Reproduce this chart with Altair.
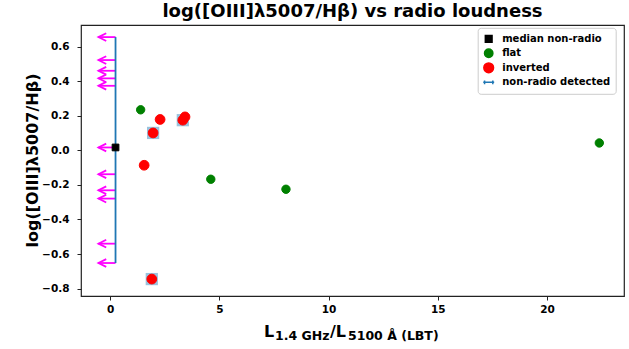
import altair as alt
import pandas as pd

# ---- data ----
categories = ["median non-radio", "flat", "inverted", "non-radio detected"]

med_x = [0.25]
med_y = [0.017]

flat_x = [1.40, 4.61, 8.05, 22.39]
flat_y = [0.235, -0.167, -0.225, 0.043]

inv_x = [2.29, 1.97, 3.33, 3.43, 1.56, 1.91]
inv_y = [0.179, 0.101, 0.175, 0.194, -0.086, -0.745]

# light-blue square markers hidden behind some red points
sq_x = [1.97, 3.33, 1.91]
sq_y = [0.101, 0.175, -0.745]

# non-radio detected: upper limits (arrows) at x = nr_x
nr_x = 0.25
nr_xerr = 0.78
nr_y = [0.656, 0.523, 0.461, 0.417, 0.374, 0.017, -0.138, -0.231, -0.279, -0.540, -0.652]

x_ticks = [0, 5, 10, 15, 20]
y_ticks = [-0.8, -0.6, -0.4, -0.2, 0.0, 0.2, 0.4, 0.6]

title_text = "log([OIII]\u03bb5007/H\u03b2) vs radio loudness"
y_title = "log([OIII]\u03bb5007/H\u03b2)"

# ---- tables ----
pts = pd.DataFrame({
    "x": med_x + flat_x + inv_x,
    "y": med_y + flat_y + inv_y,
    "cat": [categories[0]] * len(med_x) + [categories[1]] * len(flat_x) + [categories[2]] * len(inv_x),
})
sq = pd.DataFrame({"x": sq_x, "y": sq_y})
arrows = pd.DataFrame({"y": nr_y, "x0": [nr_x - nr_xerr] * len(nr_y), "x1": [nr_x] * len(nr_y)})
vline = pd.DataFrame({"x": [nr_x], "ylo": [min(nr_y)], "yhi": [max(nr_y)]})

FONT = "DejaVu Sans"
xscale = alt.Scale(domain=[-1.33, 23.52], nice=False, zero=False)
yscale = alt.Scale(domain=[-0.843, 0.726], nice=False, zero=False)
xaxis = alt.Axis(values=x_ticks, title=None, grid=False, domain=False, tickSize=4,
                 labelPadding=4, format="d")
yaxis = alt.Axis(values=y_ticks, title=y_title, grid=False, domain=False, tickSize=4,
                 labelPadding=8,
                 labelExpr="replace(format(datum.value, '.1f'), '-', '\u2212')",
                 titleFontSize=16, titleFont=FONT, titleFontWeight="bold",
                 titleX=-49, titleY=135, titleAngle=270, titleAlign="center",
                 titleBaseline="middle")


def X(field):
    return alt.X(field, type="quantitative", scale=xscale, axis=xaxis)


def Y(field):
    return alt.Y(field, type="quantitative", scale=yscale, axis=yaxis)


arrow_lines = alt.Chart(arrows).mark_rule(color="#ff00ff", strokeWidth=1.8).encode(
    x=X("x0"), x2="x1", y=Y("y"))
arrow_heads = alt.Chart(arrows).mark_point(
    shape="M2,-1L0,0L2,1", size=60, filled=False, color="#ff00ff", strokeWidth=1.8, opacity=1
).encode(x=X("x0"), y=Y("y"))
vrule = alt.Chart(vline).mark_rule(color="#1f77b4", strokeWidth=1.8).encode(
    x=X("x"), y=Y("ylo"), y2="yhi")
squares = alt.Chart(sq).mark_square(size=150, color="#1f77b4", opacity=0.45).encode(
    x=X("x"), y=Y("y"))

fill_range = ["#000000", "#008000", "#ff0000", "#1f77b4"]
shape_range = ["square", "circle", "circle",
               "M-1,0H1M-0.75,-0.35V0.35M0.75,-0.35V0.35"]
size_range = [45, 120, 120, 400]
leg = alt.Legend(title=None)

points = alt.Chart(pts).mark_point(filled=True, strokeWidth=1, opacity=1).encode(
    x=X("x"), y=Y("y"),
    fill=alt.Fill("cat:N", scale=alt.Scale(domain=categories, range=fill_range), legend=leg),
    stroke=alt.Stroke("cat:N", scale=alt.Scale(domain=categories, range=fill_range), legend=leg),
    shape=alt.Shape("cat:N", scale=alt.Scale(domain=categories, range=shape_range), legend=leg),
    size=alt.Size("cat:N", scale=alt.Scale(domain=categories, range=size_range), legend=leg),
)

one = alt.Data(values=[{"a": 0}])


def txt(s, px, py, fs):
    return alt.Chart(one).mark_text(
        text=s, font=FONT, fontWeight="bold", fontSize=fs, align="left",
        baseline="alphabetic", color="black"
    ).encode(x=alt.value(px), y=alt.value(py))


xlab = [
    txt("L", 183, 312, 16),
    txt("1.4 GHz", 194, 315, 12.5),
    txt("/L", 249, 312, 16),
    txt("5100 \u00c5 (LBT)", 267, 315, 12.5),
]

chart = alt.layer(arrow_lines, arrow_heads, vrule, squares, points, *xlab).properties(
    width=543, height=271,
    padding={"left": 81, "top": 25, "right": 5, "bottom": 53},
    autosize=alt.AutoSizeParams(type="none"),
    title=alt.TitleParams(text=title_text, font=FONT, fontSize=18, fontWeight="bold",
                          anchor="middle", color="black", offset=7, baseline="alphabetic",
                          dy=17),
).configure_view(stroke="#222222", strokeWidth=1.2).configure_axis(
    labelFont=FONT, labelFontWeight="bold", labelFontSize=10.5, labelColor="black",
    tickColor="#222222", tickWidth=1
).configure_legend(
    orient="none", legendX=396.7, legendY=2.8, padding=4.5, fillColor="white",
    strokeColor="#cccccc", cornerRadius=3, labelFont=FONT, labelFontWeight="bold",
    labelFontSize=10, labelColor="black", labelOffset=7, rowPadding=1.5,
    clipHeight=13, symbolStrokeWidth=1.5, symbolOpacity=1
)

chart.save("out.html", embed_options={"renderer": "svg", "actions": False})
